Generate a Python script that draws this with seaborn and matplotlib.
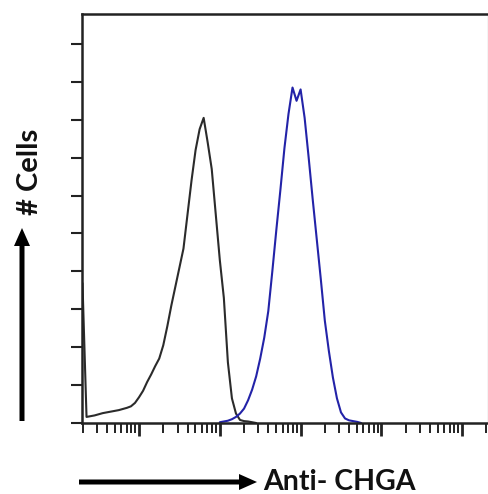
import numpy as np
import pandas as pd
import matplotlib
matplotlib.use('Agg')
import matplotlib.pyplot as plt
import matplotlib.ticker as mticker
from matplotlib.patches import FancyArrow
from matplotlib.transforms import IdentityTransform
import seaborn as sns

# bin centres in decades (log10 of fluorescence), counts
control_decades = [0.30, 0.35, 0.40, 0.45, 0.50, 0.55, 0.60, 0.65, 0.70, 0.75,
                   0.80, 0.85, 0.90, 0.95, 1.00, 1.05, 1.10, 1.15, 1.20, 1.25,
                   1.30, 1.35, 1.40, 1.45, 1.50, 1.55, 1.60, 1.65, 1.70, 1.75,
                   1.80, 1.85, 1.90, 1.95, 2.00, 2.05, 2.10, 2.15, 2.20, 2.25,
                   2.30, 2.35, 2.40, 2.45]
control_counts = [36.9, 1.6, 1.8, 2.0, 2.3, 2.6, 2.8, 3.0, 3.2, 3.4,
                  3.7, 4.0, 4.4, 5.3, 6.8, 8.5, 10.8, 12.8, 15.0, 17.0,
                  20.5, 25.5, 31.0, 36.0, 41.0, 46.0, 55.0, 64.0, 72.0, 77.5,
                  80.5, 74.0, 67.0, 55.0, 43.0, 33.0, 16.0, 6.5, 2.5, 0.8,
                  0.5, 0.4, 0.2, 0.0]

chga_decades = [2.00, 2.05, 2.10, 2.15, 2.20, 2.25, 2.30, 2.35, 2.40, 2.45,
                2.50, 2.55, 2.60, 2.65, 2.70, 2.75, 2.80, 2.85, 2.90, 2.95,
                3.00, 3.05, 3.10, 3.15, 3.20, 3.25, 3.30, 3.35, 3.40, 3.45,
                3.50, 3.55, 3.60, 3.65, 3.70, 3.75]
chga_counts = [0.2, 0.4, 0.6, 1.0, 1.6, 2.5, 3.8, 6.0, 8.8, 12.3,
               17.0, 22.5, 29.5, 40.0, 51.0, 61.5, 72.5, 81.5, 88.5, 85.0,
               88.0, 80.5, 70.0, 59.0, 48.5, 38.0, 27.0, 19.0, 12.0, 6.5,
               2.8, 1.2, 0.7, 0.5, 0.3, 0.0]

y_ticks = [0, 10, 20, 30, 40, 50, 60, 70, 80, 90, 100]

sns.set_style('white')
plt.rcParams['font.family'] = ['Lato', 'DejaVu Sans']

fig = plt.figure(figsize=(4.89, 4.94), dpi=100)
ax = fig.add_axes([82 / 489, 71 / 494, 406 / 489, 409 / 494])

df_ctrl = pd.DataFrame({'x': np.power(10.0, control_decades), 'count': control_counts})
df_chga = pd.DataFrame({'x': np.power(10.0, chga_decades), 'count': chga_counts})

sns.lineplot(data=df_ctrl, x='x', y='count', ax=ax, color='#2b2b2b', lw=1.5)
sns.lineplot(data=df_chga, x='x', y='count', ax=ax, color='#2323a8', lw=1.5)

ax.set_xscale('log')
ax.set_xlim(10 ** 0.294, 10 ** 5.32)
ax.set_ylim(0, 107.9)

ax.xaxis.set_major_locator(mticker.LogLocator(base=10, numticks=10))
ax.xaxis.set_minor_locator(mticker.LogLocator(base=10, subs=np.arange(2, 10), numticks=20))
ax.xaxis.set_major_formatter(mticker.NullFormatter())
ax.xaxis.set_minor_formatter(mticker.NullFormatter())
ax.set_yticks(y_ticks)
ax.set_yticklabels([])

ax.tick_params(axis='x', which='major', direction='out', length=9, width=2, color='#222222', bottom=True)
ax.tick_params(axis='x', which='minor', direction='out', length=7, width=1.4, color='#222222', bottom=True)
ax.tick_params(axis='y', direction='out', length=8, width=1.5, color='#222222', left=True)

for side in ['top', 'left', 'bottom']:
    ax.spines[side].set_color('#222222')
    ax.spines[side].set_linewidth(1.8)
ax.spines['right'].set_color('#c8c8c8')
ax.spines['right'].set_linewidth(1.0)

ax.set_xlabel('')
ax.set_ylabel('')

# axis arrows, in figure pixels
fig.add_artist(FancyArrow(79, 12, 178, 0, width=5, head_width=16, head_length=18,
                          length_includes_head=True, transform=IdentityTransform(),
                          color='black', lw=0))
fig.add_artist(FancyArrow(22, 494 - 421, 0, 193, width=5, head_width=16, head_length=18,
                          length_includes_head=True, transform=IdentityTransform(),
                          color='black', lw=0))

fig.text(263 / 489, 12 / 494, 'Anti- CHGA', fontsize=20.5, fontweight='bold',
         ha='left', va='center', color='#111111')
fig.text(30 / 489, (494 - 172) / 494, '# Cells', fontsize=21, fontweight='bold',
         rotation=90, ha='center', va='center', color='#111111')

fig.savefig('out.png', dpi=100)
